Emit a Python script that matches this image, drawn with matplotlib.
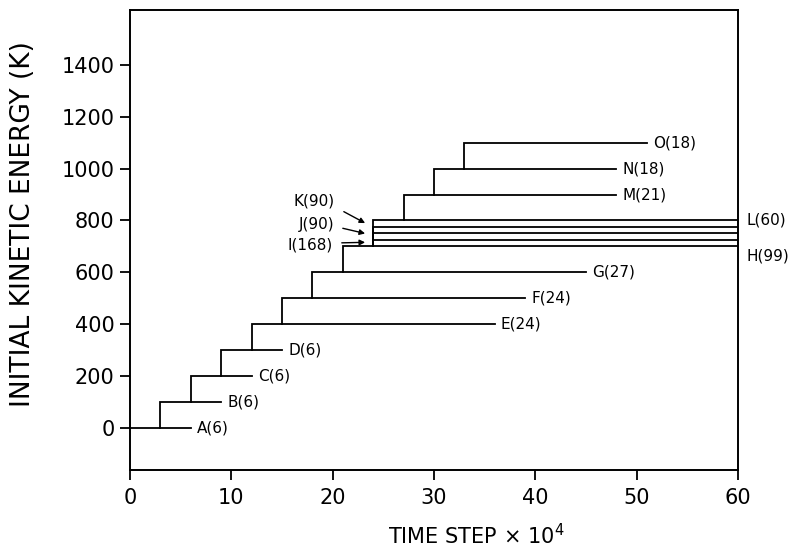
import matplotlib
matplotlib.use("Agg")
import matplotlib.pyplot as plt

# trajectory branches: name, run length (label number), branch time, energy level
names = ['A', 'B', 'C', 'D', 'E', 'F', 'G', 'H', 'I', 'J', 'K', 'L', 'M', 'N', 'O']
runs = [6, 6, 6, 6, 24, 24, 27, 99, 168, 90, 90, 60, 21, 18, 18]
branch_time = [0, 3, 6, 9, 12, 15, 18, 21, 24, 24, 24, 24, 27, 30, 33]
energy = [0, 100, 200, 300, 400, 500, 600, 700, 725, 750, 775, 800, 900, 1000, 1100]
parent = [None, 0, 1, 2, 3, 4, 5, 6, 7, 7, 7, 7, 11, 12, 13]

x_ticks = [0, 10, 20, 30, 40, 50, 60]
y_ticks = [0, 200, 400, 600, 800, 1000, 1200, 1400]

plt.rcParams['font.family'] = ['DejaVu Sans']

fig = plt.figure(figsize=(7.99, 5.57), dpi=100)
ax = fig.add_axes([0.1627, 0.1562, 0.761, 0.8259])

lw = 1.3
for i, n in enumerate(names):
    t0 = branch_time[i]
    t1 = t0 + runs[i]
    e = energy[i]
    if parent[i] is None:
        xs, ys = [t0, t1], [e, e]
    else:
        xs, ys = [t0, t0, t1], [energy[parent[i]], e, e]
    ax.plot(xs, ys, color='black', lw=lw, solid_joinstyle='miter')

    label = f"{n}({runs[i]})"
    if n in ('I', 'J', 'K'):
        continue
    if n == 'L':
        ax.text(60.8, e, label, fontsize=11, ha='left', va='center', clip_on=False)
    elif n == 'H':
        ax.text(60.8, e - 35, label, fontsize=11, ha='left', va='center', clip_on=False)
    else:
        ax.text(t1 + 0.6, e, label, fontsize=11, ha='left', va='center')

# labels with arrows for the crowded lines on the left
arrow_pos = {'K': ((20.2, 876), (21.1, 834), (23.2, 790)),
             'J': ((20.2, 786), (21.0, 770), (23.2, 750)),
             'I': ((20.0, 706), (20.9, 714), (23.2, 716))}
for n, (txt, tail, head) in arrow_pos.items():
    i = names.index(n)
    ax.text(txt[0], txt[1], f"{n}({runs[i]})", fontsize=11, ha='right', va='center')
    ax.annotate('', xy=head, xytext=tail,
                arrowprops=dict(arrowstyle='-|>', color='black', lw=1.0,
                                mutation_scale=8, shrinkA=0, shrinkB=0))

ax.set_xlim(0, 60)
ax.set_ylim(-160, 1610)
ax.set_xticks(x_ticks)
ax.set_yticks(y_ticks)
ax.tick_params(direction='out', length=7, width=1.3, labelsize=15)
ax.tick_params(axis='x', pad=6)
ax.tick_params(axis='y', pad=4)
for s in ax.spines.values():
    s.set_linewidth(1.4)

ax.set_xlabel("TIME STEP \u00d7 10$^{4}$", fontsize=15)
ax.set_ylabel("INITIAL KINETIC ENERGY (K)", fontsize=19)
ax.xaxis.set_label_coords(0.569, -0.115)
ax.yaxis.set_label_coords(-0.155, 0.535)

fig.savefig("out.png", dpi=100)
